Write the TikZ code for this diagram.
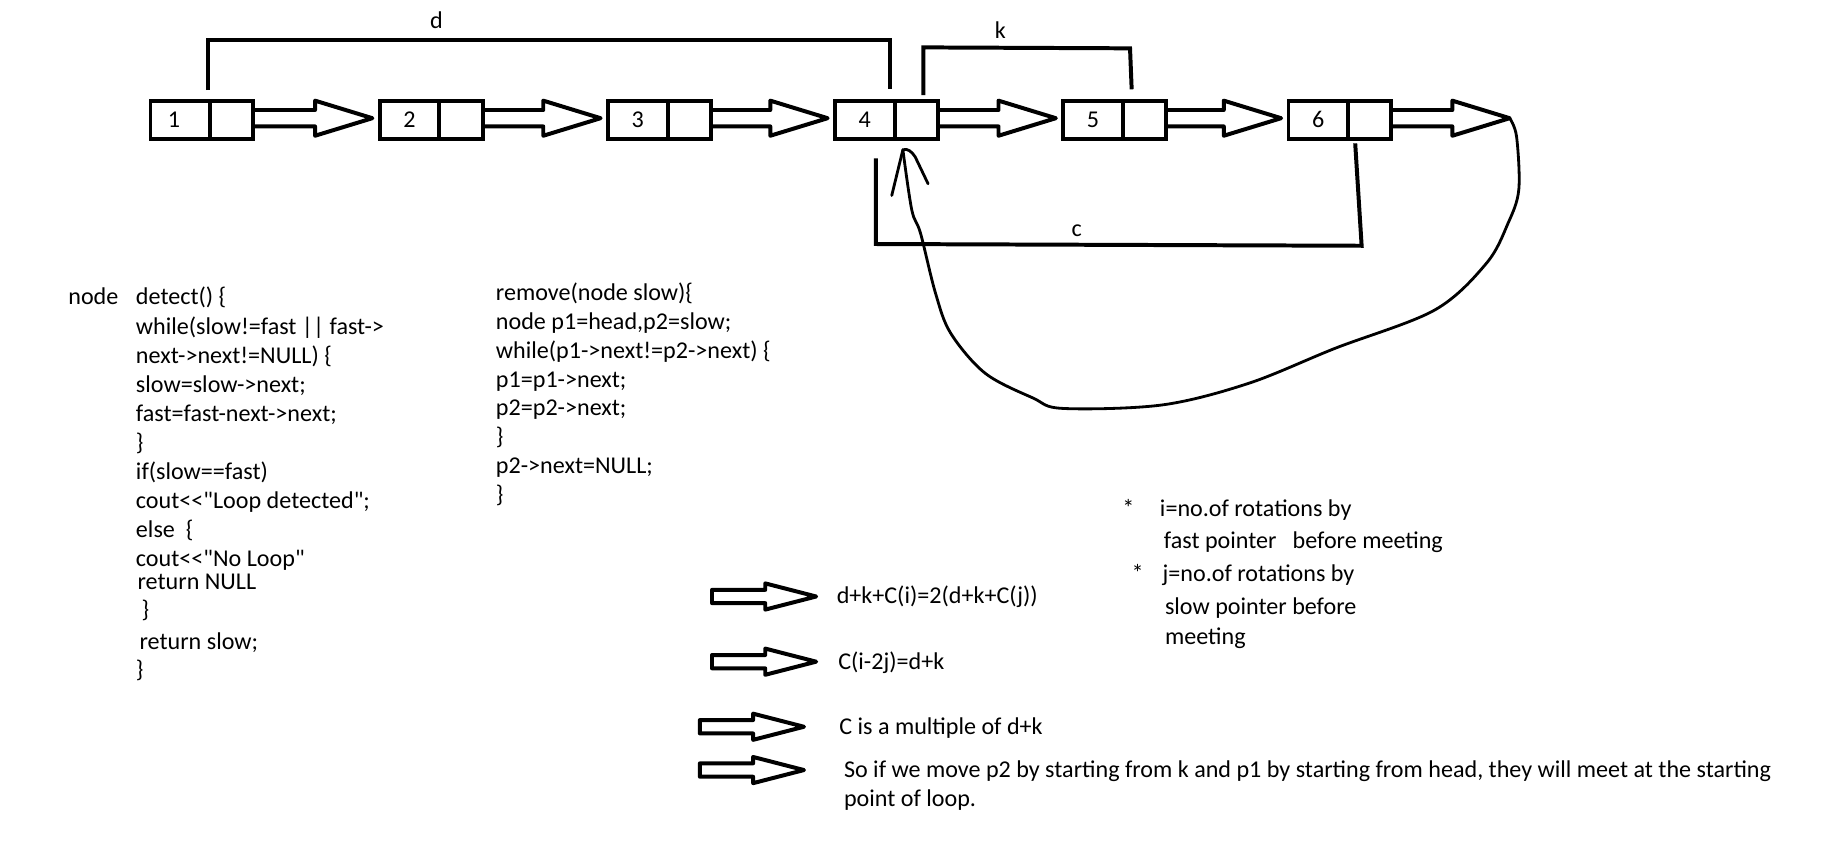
\documentclass[tikz,border=0pt]{standalone}
\usepackage{fontspec}
\setmainfont{Carlito}[Ligatures=TeXOff]
\usetikzlibrary{calc}
\tikzset{
  txt/.style={anchor=base west, inner sep=0pt, outer sep=0pt, font=\fontsize{20.6}{24}\selectfont},
  lbl/.style={inner sep=0pt, outer sep=0pt, font=\fontsize{20.6}{24}\selectfont},
  dcell/.style={draw, line width=3.4pt, outer sep=0pt, inner sep=0pt, minimum height=32.5pt, minimum width=51pt, font=\fontsize{20.6}{24}\selectfont},
  pcell/.style={draw, line width=3.4pt, outer sep=0pt, inner sep=0pt, minimum height=32.5pt, minimum width=37pt},
  bar/.style={line width=3.4pt, line join=miter},
  hollow/.style={line width=3.4pt, line join=round},
  pen/.style={line width=2.4pt, line cap=round, line join=round},
}
\newcommand{\blkarrow}[2]{%
  \draw[hollow] ($(#1.east)+(0,-8.25)$) -- ($(#2)+(-49,-7)$) -- ($(#2)+(-49,-15)$) -- (#2)
    -- ($(#2)+(-49,15)$) -- ($(#2)+(-49,7)$) -- ($(#1.east)+(0,5.75)$);}
\newcommand{\notearrow}[1]{%
  \draw[hollow] ($(#1)+(0,-5.7)$) -- ++(45.5,0) -- ++(0,-5.5) -- ++(43.5,11.2)
    -- ++(-43.5,11.2) -- ++(0,-5.5) -- ++(-45.5,0) -- cycle;}
\begin{document}
\begin{tikzpicture}[x=1pt,y=-1pt]
\useasboundingbox[fill=white] (0,0) rectangle (1568,725.5);
% list boxes
\foreach \i/\x/\t in {1/128.6/{\kern-11pt 1},2/324.5/2,3/519.5/3,4/713.5/4,5/908.5/5,6/1101/6}{
  \node[dcell, anchor=west] (d\i) at (\x,102.25) {\t};
  \node[pcell, anchor=west] (p\i) at (d\i.east) {};
}
% arrow tips
\foreach \i in {2,...,6}{ \coordinate (t\i) at ($(d\i.west)+(-6.3,-1.25)$); }
\coordinate (tip6) at (1290,101);
\blkarrow{p1}{t2}
\blkarrow{p2}{t3}
\blkarrow{p3}{t4}
\blkarrow{p4}{t5}
\blkarrow{p5}{t6}
\blkarrow{p6}{tip6}
% brackets
\draw[bar] (178,77) -- (178,34.5) -- (760.3,34.5) -- (760.3,76);
\node[lbl] (ld) at (373,17) {d};
\draw[bar] (789,81.2) -- (789,40.5) -- (965.6,41.3) -- (967,76.3);
\node[lbl] (lk) at (854.7,25.6) {k};
\draw[bar] (748.5,135.3) -- (748.5,208.5) -- (1163.5,210) -- (1158,122.5);
\node[lbl] (lc) at (920,197) {c};
% loop back curve
\coordinate (in4) at ($(d4.south east)+(7,9.5)$);
\draw[pen] plot[smooth, tension=0.55] coordinates {(tip6) (1295.9,116.8) (1297.8,162) (1288.6,190.8) (1270.1,225) (1225.8,265) (1140.9,297.6) (1067.1,327.5) (993.2,346) (908.3,349) (882.5,340) (841.9,319) (812.4,284.8) (799.4,250.6) (786.6,199.4) (779.1,179.4) (in4)};
\draw[pen] (762,167) -- (in4) .. controls (775.5,126.5) and (779,129.5) .. (782,134) -- (793,157);
% code block 1
\node[txt] (a0a) at (58.4,260.6) {node};
\node[txt] (a0b) at (116.2,260.6) {detect() \{};
\node[txt] (a1) at (116.2,285.4) {while(slow!=fast || fast->};
\node[txt] (a2) at (116.2,310.2) {next->next!=NULL) \{};
\node[txt] (a3) at (116.2,335) {slow=slow->next;};
\node[txt] (a4) at (116.2,359.8) {fast=fast-next->next;};
\node[txt] (a5) at (116.2,384.6) {\}};
\node[txt] (a6) at (116.2,409.4) {if(slow==fast)};
\node[txt] (a7) at (116.2,434.2) {cout<<"Loop detected";};
\node[txt] (a8) at (116.2,459) {else\ \ \{};
\node[txt] (a9) at (116.2,483.8) {cout<<"No Loop"};
\node[txt] (a10) at (117.6,503.6) {return NULL};
\node[txt] (a11) at (121,527.5) {\}};
\node[txt] (a12) at (119.3,554.8) {return slow;};
\node[txt] (a13) at (116.2,578.5) {\}};
% code block 2
\node[txt] (b0) at (423.8,257) {remove(node slow)\{};
\node[txt] (b1) at (423.8,281.6) {node p1=head,p2=slow;};
\node[txt] (b2) at (423.8,306.2) {while(p1->next!=p2->next) \{};
\node[txt] (b3) at (423.8,330.8) {p1=p1->next;};
\node[txt] (b4) at (423.8,355.4) {p2=p2->next;};
\node[txt] (b5) at (423.8,380) {\}};
\node[txt] (b6) at (423.8,404.6) {p2->next=NULL;};
\node[txt] (b7) at (423.8,429.2) {\}};
% notes
\node[txt] (s1) at (959,441.5) {*};
\node[txt] (n1) at (991.2,441.5) {i=no.of rotations by};
\node[txt] (n2) at (994.6,468.5) {fast pointer};
\node[txt] (n2b) at (1104.6,468.5) {before meeting};
\node[txt] (s2) at (967,497) {*};
\node[txt] (n3) at (993.5,497) {j=no.of rotations by};
\node[txt] (n4) at (995.5,525.5) {slow pointer before};
\node[txt] (n5) at (995.5,550.3) {meeting};
% derivation
\coordinate (a1c) at (608.4,509.7);
\coordinate (a2c) at (608.4,565.4);
\coordinate (a3c) at (598,621);
\coordinate (a4c) at (598,658);
\notearrow{a1c}
\notearrow{a2c}
\notearrow{a3c}
\notearrow{a4c}
\node[txt] (e1) at (715,516) {d+k+C(i)=2(d+k+C(j))};
\node[txt] (e2) at (716.3,572) {C(i-2j)=d+k};
\node[txt] (e3) at (717.2,627.5) {C is a multiple of d+k};
\node[txt] (e4) at (721.2,664.5) {So if we move p2 by starting from k and p1 by starting from head, they will meet at the starting};
\node[txt] (e5) at (721.2,689) {point of loop.};
\end{tikzpicture}
\end{document}
